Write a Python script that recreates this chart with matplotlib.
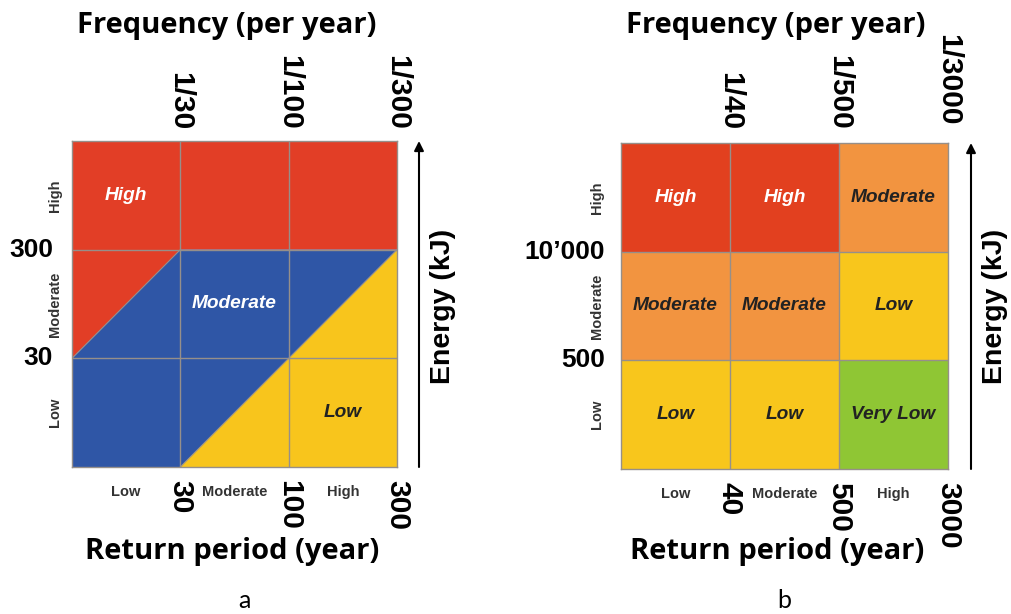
import numpy as np
import matplotlib.pyplot as plt
from matplotlib.patches import Polygon

# class names along both axes
classes = ['Low', 'Moderate', 'High']

# panel a
a_freq = ['1/30', '1/100', '1/300']
a_period = ['30', '100', '300']
a_energy = ['30', '300']
# zones in (return period class, energy class) units
a_zones = {
    'High': [(0, 1), (1, 2), (3, 2), (3, 3), (0, 3)],
    'Moderate': [(0, 0), (1, 0), (3, 2), (1, 2), (0, 1)],
    'Low': [(1, 0), (3, 0), (3, 2)],
}
a_colors = {'High': '#E23E26', 'Moderate': '#2F56A6', 'Low': '#F8C51C'}
a_text = [('High', 0.5, 2.5, 'white'), ('Moderate', 1.5, 1.5, 'white'),
          ('Low', 2.5, 0.5, '#222222')]

# panel b
b_freq = ['1/40', '1/500', '1/3000']
b_period = ['40', '500', '3000']
b_energy = ['500', '10\u2019000']
# rows: energy Low -> High, cols: return period Low -> High
b_matrix = [['Low', 'Low', 'Very Low'],
            ['Moderate', 'Moderate', 'Low'],
            ['High', 'High', 'Moderate']]
b_colors = {'High': '#E2401F', 'Moderate': '#F29440', 'Low': '#F8C61C',
            'Very Low': '#8FC634'}

W, H = 1011, 614
fig = plt.figure(figsize=(W / 100, H / 100), dpi=100)

NUM = dict(family='Liberation Sans', weight='bold', size=19)
ROT = dict(family='Liberation Sans', weight='bold', size=21.5)
SMALL = dict(family='Liberation Sans', weight='bold', size=10.5, color='#333333')
TITLE = dict(family='Open Sans', weight='bold', size=21)
CELL = dict(family='Liberation Sans', weight='bold', style='italic', size=13.8)
grid_c = '#968f8a'


def px(x0, y0, x1, y1):
    return [x0 / W, 1 - y1 / H, (x1 - x0) / W, (y1 - y0) / H]


def frame(ax, freq, period, energy, ylab_off, small_off, arrow_x, lab_x, top_off):
    ax.set_xlim(0, 3)
    ax.set_ylim(0, 3)
    ax.set_xticks([])
    ax.set_yticks([])
    for s in ax.spines.values():
        s.set_color(grid_c)
        s.set_linewidth(1)
    for v in [1, 2]:
        ax.axvline(v, color=grid_c, lw=1, zorder=3)
        ax.axhline(v, color=grid_c, lw=1, zorder=3)
    for i, lab in enumerate(freq):
        ax.annotate(lab, (i + 1, 3), xytext=(0, top_off[i]), textcoords='offset pixels',
                    rotation=270, ha='center', va='bottom', annotation_clip=False, **ROT)
    for i, lab in enumerate(period):
        ax.annotate(lab, (i + 1, 0), xytext=(0, -13), textcoords='offset pixels',
                    rotation=270, ha='center', va='top', annotation_clip=False, **ROT)
    for i, lab in enumerate(energy):
        ax.annotate(lab, (0, i + 1), xytext=(ylab_off, 0), textcoords='offset pixels',
                    ha='right', va='center', annotation_clip=False, **NUM)
    for i, lab in enumerate(classes):
        ax.annotate(lab, (0, i + 0.5), xytext=(small_off, 0), textcoords='offset pixels',
                    rotation=90, ha='center', va='center', annotation_clip=False, **SMALL)
        ax.annotate(lab, (i + 0.5, 0), xytext=(0, -25), textcoords='offset pixels',
                    ha='center', va='center', annotation_clip=False, **SMALL)
    bb = ax.get_position()
    ax.annotate('', xy=(arrow_x / W, bb.y1), xytext=(arrow_x / W, bb.y0),
                xycoords='figure fraction', textcoords='figure fraction',
                arrowprops=dict(arrowstyle='-|>', color='black', lw=1.5,
                                mutation_scale=14, shrinkA=0, shrinkB=0))
    fig.text(lab_x / W, 1 - 306 / H, 'Energy (kJ)', rotation=90, ha='center',
             va='center', family='Liberation Sans', weight='bold', size=20.5)


# panel a
ax1 = fig.add_axes(px(72, 141, 397, 467))
for name, pts in a_zones.items():
    ax1.add_patch(Polygon(pts, closed=True, facecolor=a_colors[name],
                          edgecolor='none', zorder=1))
ax1.plot([0, 1], [1, 2], color=grid_c, lw=0.8, zorder=2)
ax1.plot([1, 3], [0, 2], color=grid_c, lw=0.8, zorder=2)
for lab, x, y, c in a_text:
    ax1.text(x, y, lab, ha='center', va='center', color=c, zorder=4, **CELL)
frame(ax1, a_freq, a_period, a_energy, -19, -17, 419, 443, [11, 11, 11])

# panel b
ax2 = fig.add_axes(px(621, 143, 948, 469))
for r, row in enumerate(b_matrix):
    for c, lab in enumerate(row):
        ax2.add_patch(plt.Rectangle((c, r), 1, 1, facecolor=b_colors[lab],
                                    edgecolor='none', zorder=1))
        tc = 'white' if lab == 'High' else '#222222'
        ax2.text(c + 0.5, r + 0.5, lab, ha='center', va='center', color=tc,
                 zorder=4, **CELL)
frame(ax2, b_freq, b_period, b_energy, -16, -24, 971, 995, [13, 13, 18])

# titles and panel letters
fig.text(227 / W, 1 - 25 / H, 'Frequency (per year)', ha='center', va='center', **TITLE)
fig.text(232 / W, 1 - 551 / H, 'Return period (year)', ha='center', va='center', **TITLE)
fig.text(776 / W, 1 - 25 / H, 'Frequency (per year)', ha='center', va='center', **TITLE)
fig.text(777 / W, 1 - 551 / H, 'Return period (year)', ha='center', va='center', **TITLE)
fig.text(244 / W, 1 - 601 / H, 'a', ha='center', va='center', family='Lato', size=18)
fig.text(784 / W, 1 - 601 / H, 'b', ha='center', va='center', family='Lato', size=18)

fig.savefig('out.png', dpi=100, facecolor='white')
